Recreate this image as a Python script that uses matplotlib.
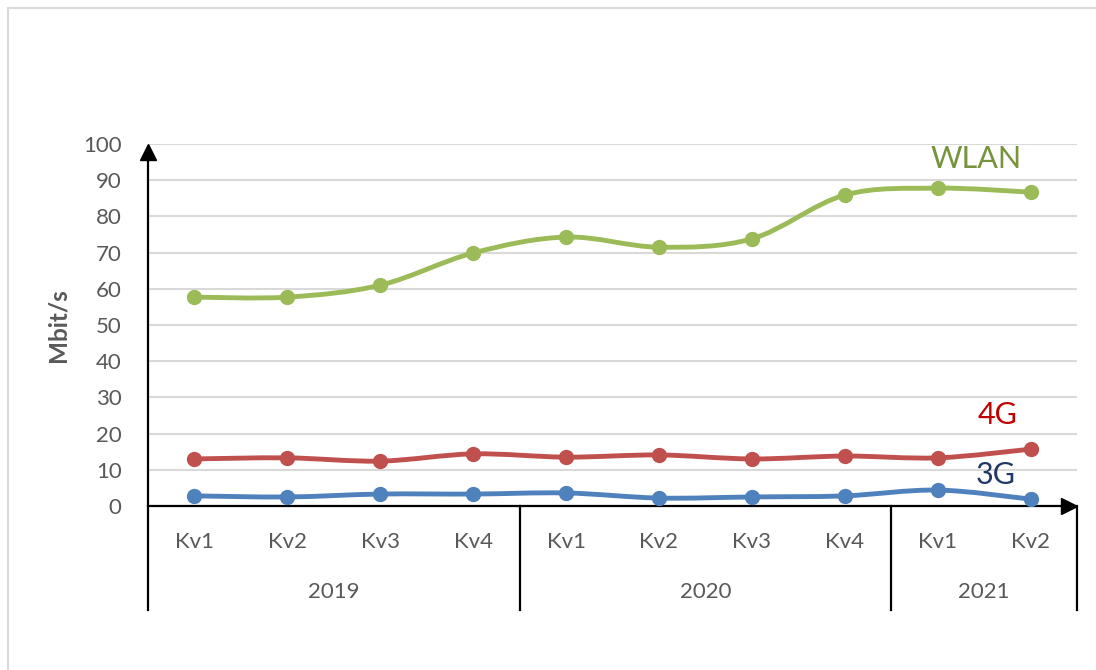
import matplotlib
matplotlib.use("Agg")
import matplotlib.pyplot as plt
from matplotlib.path import Path
from matplotlib import patches
import numpy as np

quarters = ["Kv1", "Kv2", "Kv3", "Kv4", "Kv1", "Kv2", "Kv3", "Kv4", "Kv1", "Kv2"]
years = ["2019", "2020", "2021"]
year_sizes = [4, 4, 2]

wlan = [57.7, 57.7, 61.0, 69.9, 74.3, 71.5, 73.8, 85.9, 87.8, 86.7]
lte = [13.0, 13.3, 12.4, 14.4, 13.5, 14.1, 13.0, 13.8, 13.3, 15.7]
umts = [2.8, 2.5, 3.3, 3.3, 3.6, 2.2, 2.5, 2.8, 4.4, 1.9]

series = [
    ("WLAN", wlan, "#9BBB59", "#77933C", 8.41, 95.9),
    ("4G", lte, "#C0504D", "#C00000", 8.64, 25.1),
    ("3G", umts, "#4F81BD", "#1F3864", 8.62, 8.6),
]

plt.rcParams['font.family'] = ['Lato', 'DejaVu Sans']
GRAY = "#595959"


def smooth_path(xs, ys):
    # excel-like smoothed line: bezier segments with catmull-rom control points
    pts = np.column_stack([xs, ys])
    n = len(pts)
    verts = [pts[0]]
    codes = [Path.MOVETO]
    for i in range(n - 1):
        p0 = pts[max(i - 1, 0)]
        p1 = pts[i]
        p2 = pts[i + 1]
        p3 = pts[min(i + 2, n - 1)]
        c1 = p1 + (p2 - p0) / 6.0
        c2 = p2 - (p3 - p1) / 6.0
        verts += [c1, c2, p2]
        codes += [Path.CURVE4] * 3
    return Path(verts, codes)


fig = plt.figure(figsize=(10.96, 6.70), dpi=100)
# outer chart border (only top/left visible)
fig.add_artist(plt.Line2D([8 / 1096, 1], [1 - 8 / 670, 1 - 8 / 670], color="#D9D9D9", lw=1.5))
fig.add_artist(plt.Line2D([8 / 1096, 8 / 1096], [0, 1 - 8 / 670], color="#D9D9D9", lw=1.5))

ax = fig.add_axes([148 / 1096, (670 - 506) / 670, (1077 - 148) / 1096, (506 - 144) / 670])
ax.set_xlim(-0.5, 9.5)
ax.set_ylim(0, 100)
ax.set_yticks(range(0, 101, 10))
ax.yaxis.grid(True, color="#D9D9D9", lw=1.5)
ax.set_axisbelow(True)
for s in ax.spines.values():
    s.set_visible(False)
ax.tick_params(axis="y", length=0, pad=19, labelsize=16, labelcolor=GRAY)
ax.set_xticks(range(len(quarters)))
ax.set_xticklabels(quarters)
ax.tick_params(axis="x", length=0, pad=19, labelsize=16, labelcolor=GRAY)
ax.set_ylabel("Mbit/s", fontsize=17.5, fontweight="bold", color=GRAY, labelpad=10)

x = np.arange(len(quarters))
for name, vals, col, txtcol, lx, ly in series:
    ax.add_patch(patches.PathPatch(smooth_path(x, vals), fill=False, edgecolor=col, lw=3.5,
                                   capstyle="round", zorder=3))
    ax.plot(x, vals, "o", color=col, ms=10, zorder=4)
    ax.text(lx, ly, name, color=txtcol, fontsize=22, ha="center", va="center")

# axes lines with arrows
tr = ax.get_xaxis_transform()
ax.plot([-0.5, -0.5], [-0.287, 0.98], color="black", lw=1.6, transform=tr, clip_on=False)
ax.plot([-0.5], [0.979], marker="^", ms=11.5, color="black", transform=tr, clip_on=False)
ax.plot([-0.5, 9.4], [0, 0], color="black", lw=1.6, clip_on=False)
ax.plot([9.41], [0], marker=">", ms=11.5, color="black", clip_on=False)

# year group separators and labels
start = -0.5
for yr, size in zip(years, year_sizes):
    end = start + size
    ax.plot([end, end], [-0.287, 0], color="black", lw=1.6, transform=tr, clip_on=False)
    ax.text((start + end) / 2, -0.2376, yr, transform=tr, ha="center", va="center",
            fontsize=16, color=GRAY)
    start = end

fig.savefig("out.png", dpi=100)
